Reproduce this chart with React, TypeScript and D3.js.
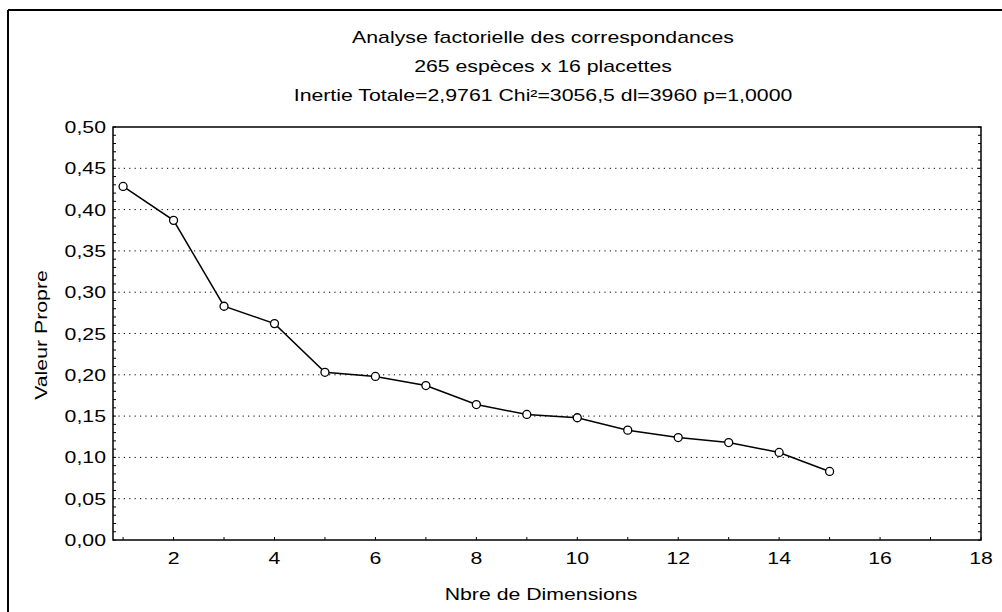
import React from "react";
import * as d3 from "d3";

const dimensions = [1, 2, 3, 4, 5, 6, 7, 8, 9, 10, 11, 12, 13, 14, 15];
const eigenvalues = [0.428, 0.387, 0.283, 0.262, 0.203, 0.198, 0.187, 0.164, 0.152, 0.148, 0.133, 0.124, 0.118, 0.106, 0.083];
const xTicks = [2, 4, 6, 8, 10, 12, 14, 16, 18];
const yTicks = [0, 0.05, 0.1, 0.15, 0.2, 0.25, 0.3, 0.35, 0.4, 0.45, 0.5];
const titleLines = [
  "Analyse factorielle des correspondances",
  "265 espèces x 16 placettes",
  "Inertie Totale=2,9761 Chi²=3056,5 dl=3960 p=1,0000",
];
const xLabel = "Nbre de Dimensions";
const yLabel = "Valeur Propre";

const W = 1002;
const H = 612;
const M = { left: 113, right: 981, top: 127, bottom: 540 };
const FONT = "'Liberation Sans', Arial, sans-serif";
const SX = 1.33;

function T({ x, y, children, anchor = "middle", size = 16, rotate = 0 }: any) {
  const tr = rotate
    ? `translate(${x},${y}) rotate(${rotate}) scale(${SX},1)`
    : `translate(${x},${y}) scale(${SX},1)`;
  return (
    <text transform={tr} textAnchor={anchor} fontFamily={FONT} fontSize={size} fill="#000">
      {children}
    </text>
  );
}

export default function App() {
  const x = d3.scaleLinear().domain([0.8, 18]).range([M.left, M.right]);
  const y = d3.scaleLinear().domain([0, 0.5]).range([M.bottom, M.top]);
  const fmt = (v: number) => v.toFixed(2).replace(".", ",");
  const line = d3
    .line<number>()
    .x((_, i) => x(dimensions[i]))
    .y((d) => y(d));
  const minorY = d3.range(0, 0.5001, 0.01);
  const minorX = d3.range(1, 18.001, 1);

  return (
    <svg width={W} height={H} style={{ position: "absolute", left: 0, top: 0, background: "#fff" }}>
      <rect x={0} y={0} width={W} height={H} fill="#fff" />
      {/* outer frame */}
      <line x1={8} y1={10} x2={W} y2={10} stroke="#000" strokeWidth={2} />
      <line x1={8} y1={10} x2={8} y2={H} stroke="#000" strokeWidth={2} />

      {titleLines.map((t, i) => (
        <T key={i} x={543} y={43 + i * 29}>{t}</T>
      ))}

      {/* grid */}
      {yTicks.filter((v) => v > 0 && v < 0.5).map((v) => (
        <line key={v} x1={M.left} x2={M.right} y1={y(v)} y2={y(v)} stroke="#000" strokeWidth={1} strokeDasharray="1.2 4.2" />
      ))}

      {/* minor ticks */}
      {minorY.map((v, i) => (
        <line key={"my" + i} x1={M.left} x2={M.left + 3} y1={y(v)} y2={y(v)} stroke="#000" strokeWidth={1} />
      ))}
      {minorY.map((v, i) => (
        <line key={"myr" + i} x1={M.right - 3} x2={M.right} y1={y(v)} y2={y(v)} stroke="#000" strokeWidth={1} />
      ))}
      {minorX.map((v) => (
        <line key={"mx" + v} x1={x(v)} x2={x(v)} y1={M.bottom} y2={M.bottom - 3} stroke="#000" strokeWidth={1} />
      ))}

      {/* plot frame */}
      <rect x={M.left} y={M.top} width={M.right - M.left} height={M.bottom - M.top} fill="none" stroke="#000" strokeWidth={1.5} />

      {yTicks.map((v) => (
        <T key={"yt" + v} x={M.left - 7} y={y(v) + 6} anchor="end">{fmt(v)}</T>
      ))}
      {xTicks.map((v) => (
        <T key={"xt" + v} x={x(v)} y={564}>{String(v)}</T>
      ))}

      <T x={541} y={600}>{xLabel}</T>
      <T x={47} y={335} rotate={-90}>{yLabel}</T>

      <path d={line(eigenvalues) || ""} fill="none" stroke="#000" strokeWidth={1.5} />
      {eigenvalues.map((v, i) => (
        <circle key={"p" + i} cx={x(dimensions[i])} cy={y(v)} r={4} fill="#fff" stroke="#000" strokeWidth={1.3} />
      ))}
    </svg>
  );
}
